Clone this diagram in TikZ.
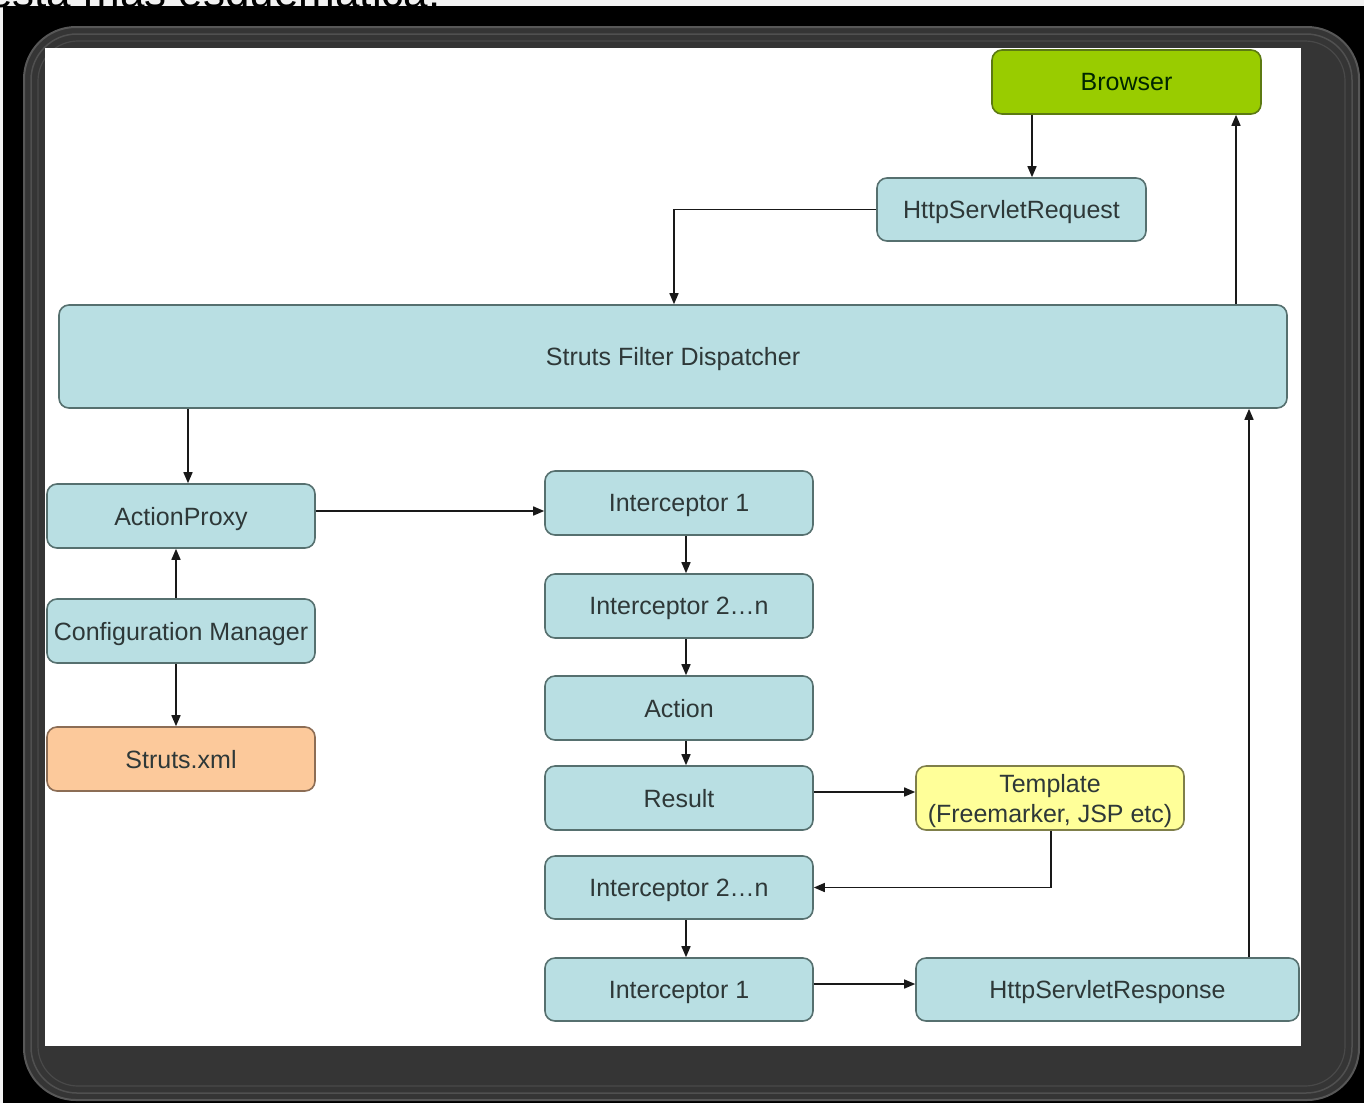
\documentclass[tikz,border=0pt]{standalone}
\usepackage{fontspec}
\setmainfont{Liberation Sans}
\usetikzlibrary{arrows.meta}
\definecolor{boxblue}{HTML}{B9DFE3}
\definecolor{boxline}{HTML}{56706F}
\definecolor{browsergreen}{HTML}{99CC00}
\definecolor{browserline}{HTML}{5C7A12}
\definecolor{xmlorange}{HTML}{FCC99B}
\definecolor{xmlline}{HTML}{8C6D55}
\definecolor{tmplyellow}{HTML}{FFFF99}
\definecolor{tmplline}{HTML}{7F7F4A}
\definecolor{txt}{HTML}{2E3838}
\definecolor{framegray}{HTML}{353535}
\definecolor{ringgray}{HTML}{575757}
\tikzset{
  box/.style={draw=boxline, fill=boxblue, line width=1.6pt, rounded corners=10pt,
    minimum width=268pt, minimum height=64pt, inner sep=0pt, text=txt,
    text depth=0pt,
    font=\fontsize{25}{30}\selectfont, align=center},
  arr/.style={draw=black!90, line width=1.5pt, -{Triangle[length=11pt,width=9pt]}},
}
\begin{document}
\begin{tikzpicture}[x=1pt,y=-1pt]
\useasboundingbox (0,0) rectangle (1364,1103);
% background and frame
\fill[black!5] (0,0) rectangle (1364,1103);
\node[anchor=base west, inner sep=0pt, font=\fontsize{44}{50}\selectfont, text=black] (caption) at (-12,7) {esta mas esquematica:};
\fill[black] (3,6) rectangle (1364,1103);
\fill[framegray, draw=ringgray, line width=2pt, rounded corners=52pt] (24,27) rectangle (1359,1100);
\draw[ringgray!80!framegray, line width=1.5pt, rounded corners=46pt] (31,34) rectangle (1352,1093);
\draw[ringgray!60!framegray, line width=1.2pt, rounded corners=40pt] (38,41) rectangle (1345,1086);
\fill[white] (45,48) rectangle (1301,1046);
% nodes
\node[box, fill=browsergreen, draw=browserline, minimum width=269pt, text=black!85!green] (browser) at (1126.5,82) {Browser};
\node[box, minimum width=269pt, minimum height=63pt] (req) at (1011.5,209.5) {HttpServletRequest};
\node[box, minimum width=1228pt, minimum height=103pt] (disp) at (673,356.5) {Struts Filter Dispatcher};
\node[box] (proxy) at (181,516) {ActionProxy};
\node[box] (config) at (181,631) {Configuration Manager};
\node[box, fill=xmlorange, draw=xmlline] (xml) at (181,759) {Struts.xml};
\node[box] (i1) at (679,503) {Interceptor 1};
\node[box] (i2) at (679,606) {Interceptor 2…n};
\node[box] (action) at (679,708) {Action};
\node[box] (result) at (679,798) {Result};
\node[box, fill=tmplyellow, draw=tmplline] (tmpl) at (1050,798) {Template\\(Freemarker, JSP etc)};
\node[box, minimum height=63pt] (i2b) at (679,887.5) {Interceptor 2…n};
\node[box, minimum height=63pt] (i1b) at (679,989.5) {Interceptor 1};
\node[box, minimum width=383pt, minimum height=63pt] (resp) at (1107.5,989.5) {HttpServletResponse};
% connectors
\draw[arr] ([xshift=-94.5pt]browser.south) -- ([xshift=20.5pt]req.north);
\draw[arr] (req.west) -| ([xshift=1pt]disp.north);
\draw[arr] ([xshift=563pt]disp.north) -- ([xshift=109.5pt]browser.south);
\draw[arr] ([xshift=-485pt]disp.south) -- ([xshift=7pt]proxy.north);
\draw[arr] ([yshift=5pt]proxy.east) -- ([yshift=-8pt]i1.west);
\draw[arr] ([xshift=-5pt]config.north) -- ([xshift=-5pt]proxy.south);
\draw[arr] ([xshift=-5pt]config.south) -- ([xshift=-5pt]xml.north);
\draw[arr] ([xshift=7pt]i1.south) -- ([xshift=7pt]i2.north);
\draw[arr] ([xshift=7pt]i2.south) -- ([xshift=7pt]action.north);
\draw[arr] ([xshift=7pt]action.south) -- ([xshift=7pt]result.north);
\draw[arr] ([yshift=6pt]result.east) -- ([yshift=6pt]tmpl.west);
\draw[arr] ([xshift=1pt]tmpl.south) |- (i2b.east);
\draw[arr] ([xshift=7pt]i2b.south) -- ([xshift=7pt]i1b.north);
\draw[arr] ([yshift=5.5pt]i1b.east) -- ([yshift=5.5pt]resp.west);
\draw[arr] ([xshift=141.5pt]resp.north) -- ([xshift=576pt]disp.south);
\end{tikzpicture}
\end{document}
